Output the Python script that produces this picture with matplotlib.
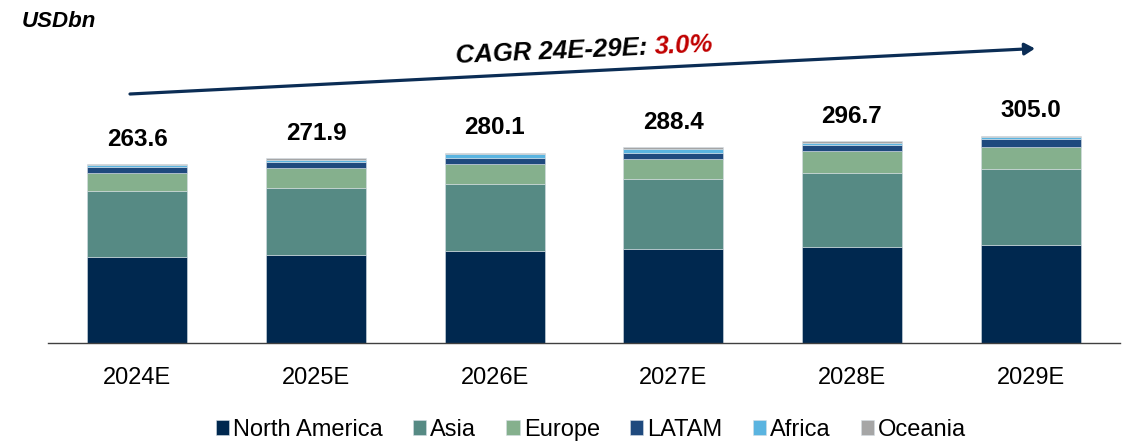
import numpy as np
import matplotlib
matplotlib.use("Agg")
import matplotlib.pyplot as plt

plt.rcParams['font.family'] = ['Liberation Sans', 'DejaVu Sans']

years = ['2024E', '2025E', '2026E', '2027E', '2028E', '2029E']
totals = [263.6, 271.9, 280.1, 288.4, 296.7, 305.0]
north_america = [127.3, 129.3, 135.0, 138.0, 142.0, 144.5]
asia = [95.6, 98.6, 98.6, 103.7, 108.3, 111.5]
europe = [27.0, 29.3, 29.3, 29.2, 32.5, 32.0]
latam = [8.2, 8.8, 8.8, 8.8, 8.5, 11.8]
africa = [3.5, 2.9, 5.8, 5.8, 2.9, 2.4]
oceania = [2.0, 3.0, 2.6, 2.9, 2.5, 2.8]

series = [('North America', north_america, '#00284F'),
          ('Asia', asia, '#568A84'),
          ('Europe', europe, '#85B08D'),
          ('LATAM', latam, '#1F4A7E'),
          ('Africa', africa, '#5AB4E0'),
          ('Oceania', oceania, '#A6A6A6')]

W, H = 1132, 441
fig = plt.figure(figsize=(W / 100, H / 100), dpi=100)
# axes: bottom = baseline at y=343 px, top = figure top
ax = fig.add_axes([48 / W, (H - 343.3) / H, (1120 - 48) / W, 343.3 / H])

x = np.arange(len(years))
bottom = np.zeros(len(years))
for name, vals, col in series:
    ax.bar(x, vals, 0.56, bottom=bottom, color=col, label=name,
           edgecolor='#d5dde4', linewidth=0.4)
    bottom += np.array(vals)

for xi, t in zip(x, totals):
    ax.annotate(f'{t:.1f}', (xi, t), xytext=(0, 9.5), textcoords='offset points',
                ha='center', va='bottom', fontsize=17.5, fontweight='bold')

ax.set_xlim(-0.5, 5.5)
ax.set_ylim(0, 504)
ax.set_xticks(x)
ax.set_xticklabels(years, fontsize=17)
ax.tick_params(axis='x', length=0, pad=17)
ax.set_yticks([])
for s in ['top', 'left', 'right']:
    ax.spines[s].set_visible(False)
ax.spines['bottom'].set_color('#404040')
ax.spines['bottom'].set_linewidth(1.0)

# unit label
fig.text(22 / W, 1 - 27 / H, 'USDbn', fontsize=16, fontweight='bold',
         fontstyle='italic', ha='left', va='baseline')

# CAGR arrow
px = lambda X, Y: (X / W, 1 - Y / H)
ax.annotate('', xy=px(1035, 48.5), xycoords='figure fraction',
            xytext=px(130, 94), textcoords='figure fraction',
            arrowprops=dict(arrowstyle='-|>,head_length=0.6,head_width=0.35',
                            color='#0B2D55', lw=2.3, shrinkA=0, shrinkB=0))

rot = 2.5
ang = np.deg2rad(rot)
x0, y0 = 456, H - 63
t1 = fig.text(x0 / W, y0 / H, 'CAGR 24E-29E: ', fontsize=18.5, fontweight='bold',
              fontstyle='italic', rotation=rot, rotation_mode='anchor',
              ha='left', va='baseline')
r = fig.canvas.get_renderer()
tmp = fig.text(0, 0, 'CAGR 24E-29E: ', fontsize=18.5, fontweight='bold',
               fontstyle='italic')
w = tmp.get_window_extent(r).width
tmp.remove()
fig.text((x0 + w * np.cos(ang)) / W, (y0 + w * np.sin(ang)) / H, '3.0%',
         fontsize=18.5, fontweight='bold', fontstyle='italic', color='#C00000',
         rotation=rot, rotation_mode='anchor', ha='left', va='baseline')

fig.legend(loc='center', bbox_to_anchor=(591 / W, 11 / H), ncol=6, frameon=False,
           fontsize=17, handlelength=0.57, handleheight=0.57, handletextpad=0.17,
           columnspacing=1.27, borderaxespad=0, borderpad=0)

fig.savefig('out.png', dpi=100)
